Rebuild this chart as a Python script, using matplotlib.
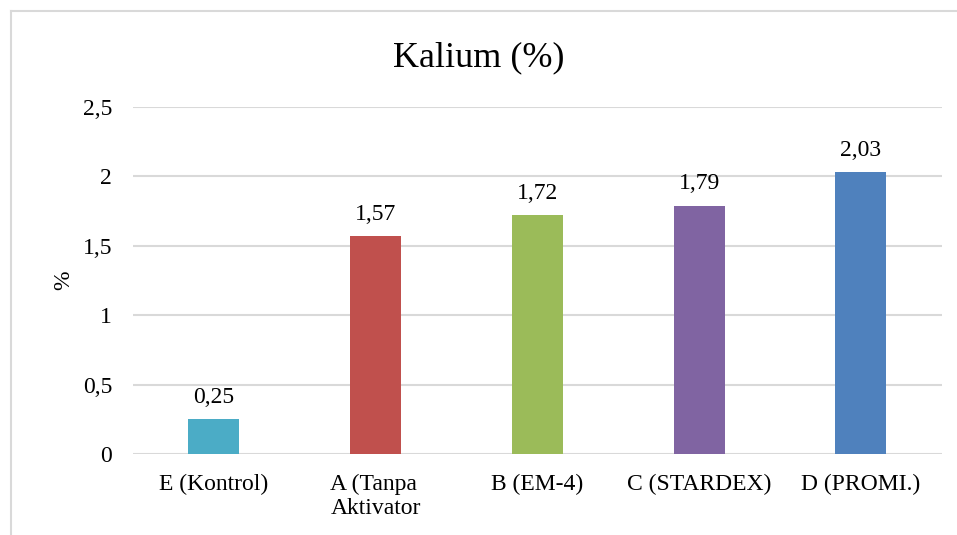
import matplotlib.pyplot as plt
from matplotlib.lines import Line2D

# Data
categories = ['E (Kontrol)', 'A (Tanpa\nAktivator', 'B (EM-4)', 'C (STARDEX)', 'D (PROMI.)']
values = [0.25, 1.57, 1.72, 1.79, 2.03]
colors = ['#4BACC6', '#C0504D', '#9BBB59', '#8064A2', '#4F81BD']
yticks = [0, 0.5, 1, 1.5, 2, 2.5]
ytick_labels = ['0', '0,5', '1', '1,5', '2', '2,5']

plt.rcParams['font.family'] = ['Liberation Serif', 'DejaVu Serif']

fig = plt.figure(figsize=(9.57, 5.35), dpi=100)
ax = fig.add_axes([0.139, 0.1514, 0.845, 0.6486])

x = range(len(categories))
bars = ax.bar(x, values, width=0.315, color=colors, zorder=3)

# value labels
for xi, v in zip(x, values):
    ax.annotate(('%.2f' % v).replace('.', ','), (xi, v), xytext=(0, 8),
                textcoords='offset points', ha='center', va='bottom', fontsize=17)

ax.set_xlim(-0.5, len(categories) - 0.5)
ax.set_ylim(0, 2.5)
ax.set_yticks(yticks)
ax.set_yticklabels(ytick_labels, fontsize=17)
ax.set_xticks(list(x))
ax.set_xticklabels(categories, fontsize=17, multialignment='left')
ax.tick_params(axis='both', length=0, pad=14)
ax.tick_params(axis='y', pad=15)
ax.grid(axis='y', color='#D9D9D9', linewidth=1.5, zorder=0)
for s in ax.spines.values():
    s.set_visible(False)

ax.set_ylabel('%', fontsize=17, labelpad=6)
fig.text(0.5, 0.892, 'Kalium (%)', ha='center', va='center', fontsize=26)

# chart border (cropped)
fig.add_artist(Line2D([11/957, 11/957], [0, 1 - 11/535], color='#D9D9D9', linewidth=1.5))
fig.add_artist(Line2D([11/957, 1], [1 - 11/535, 1 - 11/535], color='#D9D9D9', linewidth=1.5))

plt.savefig('out.png')
